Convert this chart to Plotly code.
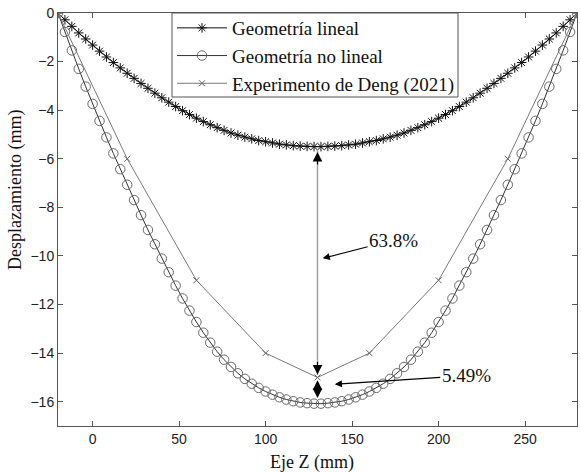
import plotly.graph_objects as go

# ---------------- data ----------------
z_mm = [-20, -16, -12, -8, -4, 0, 4, 8, 12, 16, 20, 24, 28, 32, 36, 40, 44, 48, 52, 56,
        60, 64, 68, 72, 76, 80, 84, 88, 92, 96, 100, 104, 108, 112, 116, 120, 124, 128,
        132, 136, 140, 144, 148, 152, 156, 160, 164, 168, 172, 176, 180, 184, 188, 192,
        196, 200, 204, 208, 212, 216, 220, 224, 228, 232, 236, 240, 244, 248, 252, 256,
        260, 264, 268, 272, 276, 280]

geo_lineal = [0, -0.28, -0.55, -0.82, -1.07, -1.32, -1.57, -1.81, -2.04, -2.26, -2.48,
              -2.69, -2.90, -3.10, -3.30, -3.49, -3.67, -3.85, -4.02, -4.18, -4.33, -4.47,
              -4.60, -4.72, -4.83, -4.94, -5.03, -5.11, -5.18, -5.25, -5.30, -5.35, -5.40,
              -5.43, -5.46, -5.48, -5.49, -5.50,
              -5.50, -5.49, -5.48, -5.46, -5.43, -5.40, -5.35, -5.30, -5.25, -5.18, -5.11,
              -5.03, -4.94, -4.83, -4.72, -4.60, -4.47, -4.33, -4.18, -4.02, -3.85, -3.67,
              -3.49, -3.30, -3.10, -2.90, -2.69, -2.48, -2.26, -2.04, -1.81, -1.57, -1.32,
              -1.07, -0.82, -0.55, -0.28, 0]

geo_no_lineal = [0, -0.78, -1.54, -2.30, -3.03, -3.74, -4.44, -5.12, -5.78, -6.43, -7.07,
                 -7.70, -8.32, -8.93, -9.52, -10.11, -10.67, -11.22, -11.75, -12.25, -12.72,
                 -13.16, -13.57, -13.94, -14.27, -14.57, -14.83, -15.06, -15.26, -15.43,
                 -15.58, -15.71, -15.82, -15.91, -15.98, -16.03, -16.06, -16.08,
                 -16.08, -16.06, -16.03, -15.98, -15.91, -15.82, -15.71, -15.58, -15.43,
                 -15.26, -15.06, -14.83, -14.57, -14.27, -13.94, -13.57, -13.16, -12.72,
                 -12.25, -11.75, -11.22, -10.67, -10.11, -9.52, -8.93, -8.32, -7.70, -7.07,
                 -6.43, -5.78, -5.12, -4.44, -3.74, -3.03, -2.30, -1.54, -0.78, 0]

deng_z = [-20, 20, 60, 100, 130, 160, 200, 240, 280]
deng_desp = [0, -6, -11, -14, -15, -14, -11, -6, 0]

x_ticks = [0, 50, 100, 150, 200, 250]
y_ticks = [0, -2, -4, -6, -8, -10, -12, -14, -16]

names = ["Geometría lineal", "Geometría no lineal", "Experimento de Deng (2021)"]
pct_labels = ["63.8%", "5.49%"]
x_title = "Eje Z (mm)"
y_title = "Desplazamiento (mm)"

# ---------------- figure ----------------
serif = "Liberation Serif, Times New Roman, serif"
sans = "Liberation Sans, Arial, sans-serif"

W, H = 581, 472
L, R, T, B = 58, 4, 13, 46
PW, PH = W - L - R, H - T - B


def px_x(p):
    return (p - L) / PW


def px_y(p):
    return (H - B - p) / PH


fig = go.Figure()

fig.add_trace(go.Scatter(
    x=z_mm, y=geo_lineal, name=names[0], mode="lines+markers",
    line=dict(color="#111111", width=1),
    marker=dict(symbol="asterisk-open", size=8, color="#111111",
                line=dict(color="#222222", width=1)),
))
fig.add_trace(go.Scatter(
    x=z_mm, y=geo_no_lineal, name=names[1], mode="lines+markers",
    line=dict(color="#333333", width=1),
    marker=dict(symbol="circle-open", size=9.5, color="#6a6a6a",
                line=dict(color="#6a6a6a", width=1)),
))
fig.add_trace(go.Scatter(
    x=deng_z, y=deng_desp, name=names[2], mode="lines+markers",
    line=dict(color="#7a7a7a", width=1),
    marker=dict(symbol="x-thin-open", size=6, color="#666666",
                line=dict(color="#666666", width=1)),
))

# vertical gray line between linear min and experiment
fig.add_shape(type="line", x0=130, x1=130, y0=-5.6, y1=-14.9,
              line=dict(color="#a0a0a0", width=1.5), layer="above")

# legend box (drawn as a shape so its size matches)
fig.add_shape(type="rect", xref="paper", yref="paper",
              x0=px_x(172), x1=px_x(458), y0=px_y(97), y1=px_y(13),
              fillcolor="white", line=dict(color="#555555", width=1), layer="above")

# arrow heads (black)
head = dict(showarrow=True, arrowhead=2, arrowsize=1.6, arrowwidth=1.2,
            arrowcolor="#000000", text="", axref="x", ayref="y", xref="x", yref="y")
fig.add_annotation(x=130, y=-5.72, ax=130, ay=-6.3, **head)
fig.add_annotation(x=130, y=-14.88, ax=130, ay=-14.3, **head)
fig.add_annotation(x=130, y=-15.12, ax=130, ay=-15.45, **head)
fig.add_annotation(x=130, y=-15.85, ax=130, ay=-15.5, **head)

# percentage labels with arrows
fig.add_annotation(x=133, y=-10.1, ax=174, ay=-9.35, axref="x", ayref="y",
                   text=pct_labels[0], showarrow=True, arrowhead=2, arrowsize=1.3,
                   arrowwidth=1.1, arrowcolor="#000000",
                   font=dict(family=serif, size=19, color="#111111"))
fig.add_annotation(x=140, y=-15.28, ax=216, ay=-14.93, axref="x", ayref="y",
                   text=pct_labels[1], showarrow=True, arrowhead=2, arrowsize=1.3,
                   arrowwidth=1.1, arrowcolor="#000000",
                   font=dict(family=serif, size=19, color="#111111"))

# axis titles
fig.add_annotation(xref="paper", yref="paper", x=px_x(312), y=px_y(462),
                   xanchor="center", yanchor="middle", showarrow=False, text=x_title,
                   font=dict(family=serif, size=18, color="#111111"))
fig.add_annotation(xref="paper", yref="paper", x=px_x(15), y=px_y(190),
                   xanchor="center", yanchor="middle", showarrow=False, text=y_title,
                   textangle=-90, font=dict(family=serif, size=18, color="#111111"))

axis_common = dict(
    showline=True, linecolor="#555555", linewidth=1, mirror="ticks",
    ticks="inside", ticklen=5, tickcolor="#555555", tickwidth=1,
    showgrid=False, zeroline=False,
    tickfont=dict(family=sans, size=14, color="#222222"),
)

fig.update_layout(
    width=W, height=H,
    margin=dict(l=L, r=R, t=T, b=B),
    paper_bgcolor="white", plot_bgcolor="white",
    showlegend=True,
    legend=dict(
        x=px_x(172), y=px_y(13) + 4 / PH, xanchor="left", yanchor="top",
        bgcolor="rgba(0,0,0,0)", borderwidth=0,
        font=dict(family=serif, size=19, color="#111111"),
        itemwidth=50, tracegroupgap=0,
    ),
    xaxis=dict(range=[-20, 280], tickvals=x_ticks, **axis_common),
    yaxis=dict(range=[-17, 0], tickvals=y_ticks, **axis_common),
)

fig.write_html("out.html")
